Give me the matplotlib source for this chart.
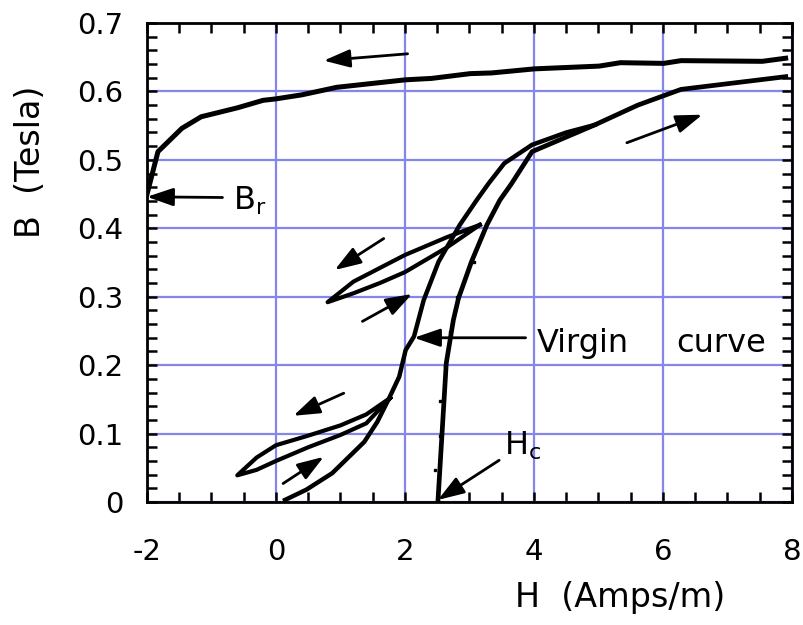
import matplotlib
matplotlib.use('Agg')
import matplotlib.pyplot as plt
from matplotlib.ticker import MultipleLocator

# Upper (descending) branch of the major loop
upper_h = [7.94, 7.54, 6.28, 6.01, 5.34, 5.01, 4.01, 3.34, 3.01, 2.41, 2.01, 0.94, 0.40, -0.01, -0.20, -0.60, -1.16, -1.46, -1.83, -2.01]
upper_b = [0.649, 0.644, 0.645, 0.641, 0.642, 0.637, 0.633, 0.627, 0.626, 0.619, 0.617, 0.606, 0.595, 0.589, 0.587, 0.576, 0.563, 0.546, 0.512, 0.446]

# Lower (ascending) branch starting at Hc
lower_h = [2.51, 2.64, 2.75, 2.83, 3.03, 3.27, 3.47, 3.65, 3.97, 4.94, 5.61, 6.28, 7.94]
lower_b = [0.0, 0.203, 0.266, 0.298, 0.351, 0.405, 0.441, 0.465, 0.512, 0.551, 0.580, 0.603, 0.622]

# Virgin magnetisation curve
virgin_h = [0.14, 0.47, 0.87, 1.37, 1.57, 1.74, 1.91, 2.01, 2.14, 2.29, 2.52, 2.85, 3.11, 3.30, 3.54, 3.97, 4.5, 4.94]
virgin_b = [0.003, 0.018, 0.042, 0.088, 0.117, 0.149, 0.183, 0.222, 0.242, 0.295, 0.351, 0.405, 0.441, 0.466, 0.495, 0.522, 0.540, 0.551]

# Minor loop near B = 0.1
loop1_h = [1.77, 1.4, 1.0, 0.5, 0.0, -0.3, -0.6, -0.3, 0.0, 0.5, 1.0, 1.4, 1.77]
loop1_b = [0.152, 0.128, 0.112, 0.097, 0.083, 0.065, 0.039, 0.047, 0.060, 0.080, 0.098, 0.115, 0.152]

# Minor loop near B = 0.35
loop2_h = [3.16, 2.65, 2.0, 1.61, 1.2, 0.8, 1.2, 1.61, 2.0, 2.65, 3.16]
loop2_b = [0.405, 0.387, 0.361, 0.342, 0.322, 0.292, 0.305, 0.320, 0.336, 0.372, 0.405]

# Sample dots beside the Hc branch
dots_h = [2.47, 2.54, 2.55, 2.62, 2.70, 2.80, 3.07]
dots_b = [0.047, 0.096, 0.148, 0.199, 0.248, 0.299, 0.351]

# Direction arrows: (tail_h, tail_b, head_h, head_b)
arrows = [
    (2.04, 0.655, 0.74, 0.645),
    (5.44, 0.525, 6.61, 0.566),
    (-0.83, 0.445, -2.0, 0.446),
    (1.67, 0.385, 0.91, 0.339),
    (1.34, 0.264, 2.11, 0.304),
    (3.87, 0.240, 2.14, 0.240),
    (1.05, 0.159, 0.27, 0.126),
    (0.11, 0.027, 0.74, 0.066),
    (3.46, 0.061, 2.51, 0.003),
]

fig = plt.figure(figsize=(8.04, 6.25), dpi=100)
ax = fig.add_axes([147/804, 1 - 502/625, 645/804, 479/625])

ax.plot(upper_h, upper_b, color='black', lw=3.6, solid_capstyle='butt')
ax.plot(lower_h, lower_b, color='black', lw=3.4, solid_capstyle='butt')
ax.plot(virgin_h, virgin_b, color='black', lw=3.2)
ax.plot(loop1_h, loop1_b, color='black', lw=3.0)
ax.plot(loop2_h, loop2_b, color='black', lw=3.0)
ax.plot(dots_h, dots_b, 's', color='black', ms=2, lw=0)

for th, tb, hh, hb in arrows:
    ax.annotate('', xy=(hh, hb), xytext=(th, tb),
                arrowprops=dict(arrowstyle='-|>,head_length=1.6,head_width=0.55',
                                color='black', lw=2, shrinkA=0, shrinkB=0))

ax.text(-0.66, 0.427, r'B$_\mathregular{r}$', fontsize=23, va='baseline')
ax.text(4.04, 0.219, 'Virgin', fontsize=23, va='baseline')
ax.text(6.21, 0.219, 'curve', fontsize=23, va='baseline')
ax.text(3.54, 0.069, r'H$_\mathregular{c}$', fontsize=23, va='baseline')

xt = [-2, 0, 2, 4, 6, 8]
yt = [0, 0.1, 0.2, 0.3, 0.4, 0.5, 0.6, 0.7]
ax.set_xlim(-2, 8)
ax.set_ylim(0, 0.7)
ax.set_xticks(xt)
ax.set_xticklabels([str(v) for v in xt])
ax.set_yticks(yt)
ax.set_yticklabels(['0'] + [f'{v:.1f}' for v in yt[1:]])
ax.xaxis.set_minor_locator(MultipleLocator(0.5))
ax.yaxis.set_minor_locator(MultipleLocator(0.02))

ax.tick_params(which='both', direction='in', top=True, right=True, width=1.8, length=7,
               labelsize=21)
ax.tick_params(axis='x', which='major', pad=26)
ax.tick_params(axis='y', which='major', pad=17)

ax.grid(True, which='major', color='#8585ee', lw=1.6)
ax.set_axisbelow(True)
for s in ax.spines.values():
    s.set_linewidth(2)

fig.text(620/804, 1 - 597/625, 'H  (Amps/m)', fontsize=24, ha='center', va='center')
fig.text(31/804, 1 - 162/625, 'B  (Tesla)', fontsize=24, ha='center', va='center', rotation=90)

fig.savefig('out.png', dpi=100)
